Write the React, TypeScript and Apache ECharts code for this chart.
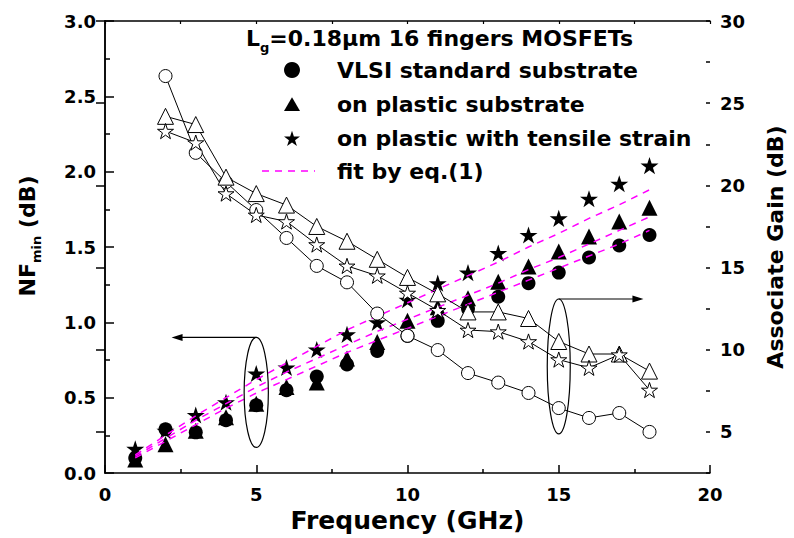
import React, { useEffect, useRef } from "react";
import * as echarts from "echarts";

// Frequency (GHz)
const freq = [1, 2, 3, 4, 5, 6, 7, 8, 9, 10, 11, 12, 13, 14, 15, 16, 17, 18];

// NFmin (dB), left axis, filled symbols
const nfVLSI = [0.10, 0.29, 0.27, 0.35, 0.45, 0.55, 0.64, 0.72, 0.81, 0.91, 1.01, 1.09, 1.17, 1.26, 1.33, 1.43, 1.51, 1.58];
const nfPlastic = [0.09, 0.19, 0.28, 0.37, 0.46, 0.57, 0.60, 0.76, 0.87, 1.01, 1.10, 1.16, 1.27, 1.37, 1.47, 1.57, 1.67, 1.76];
const nfStrain = [0.16, 0.28, 0.385, 0.47, 0.66, 0.70, 0.82, 0.92, 1.00, 1.15, 1.26, 1.33, 1.46, 1.58, 1.69, 1.82, 1.92, 2.04];

// Fit by eq.(1), NFmin (dB)
const fitVLSI = [0.10, 0.21, 0.32, 0.43, 0.53, 0.62, 0.71, 0.80, 0.88, 0.96, 1.04, 1.12, 1.20, 1.28, 1.36, 1.44, 1.52, 1.61];
const fitPlastic = [0.11, 0.23, 0.35, 0.46, 0.57, 0.67, 0.76, 0.85, 0.94, 1.02, 1.10, 1.18, 1.26, 1.35, 1.43, 1.52, 1.61, 1.70];
const fitStrain = [0.12, 0.25, 0.38, 0.50, 0.62, 0.73, 0.84, 0.95, 1.04, 1.13, 1.22, 1.31, 1.40, 1.50, 1.59, 1.69, 1.78, 1.88];

// Associate gain (dB), right axis, open symbols
const gainVLSI = [null, 26.65, 21.98, 20.2, 18.5, 16.8, 15.1, 14.1, 12.2, 10.85, 9.98, 8.58, 8.0, 7.37, 6.45, 5.85, 6.15, 5.0];
const gainPlastic = [null, 24.2, 23.7, 20.5, 19.5, 18.8, 17.5, 16.6, 15.5, 14.4, 13.4, 12.3, 12.3, 11.9, 10.5, 9.74, 9.74, 8.7];
const gainStrain = [null, 23.3, 22.6, 19.5, 18.2, 17.8, 16.4, 15.1, 14.5, 13.45, 12.4, 11.2, 11.1, 10.5, 9.4, 8.9, 9.7, 7.55];

// Right axis labelled ticks
const gainTicks = [5, 10, 15, 20, 25, 30];

const seriesNames = ["VLSI standard substrate", "on plastic substrate", "on plastic with tensile strain"];
const fitName = "fit by eq.(1)";

const STAR =
  "path://M50 0L61.23 34.55L97.55 34.55L68.16 55.9L79.39 90.45L50 69.1L20.61 90.45L31.84 55.9L2.45 34.55L38.77 34.55Z";
const TRI = "path://M50 0L100 86L0 86Z";

const FONT = "DejaVu Sans";

export default function App() {
  const ref = useRef<HTMLDivElement>(null);

  useEffect(() => {
    const chart = echarts.init(ref.current!, null, { renderer: "svg" });
    const pairs = (ys: (number | null)[]) =>
      freq.map((f, i) => [f, ys[i]]).filter((p) => p[1] !== null);

    const axisLine = { show: true, lineStyle: { color: "#000", width: 1.5 } };
    const tickLabel = { color: "#000", fontSize: 18, fontWeight: "bold", fontFamily: FONT };

    const filled = (name: string, symbol: string, size: number, data: number[]) => ({
      type: "scatter",
      name,
      xAxisIndex: 0,
      yAxisIndex: 0,
      symbol,
      symbolSize: size,
      symbolKeepAspect: true,
      itemStyle: { color: "#000", opacity: 1 },
      data: pairs(data),
      z: 2,
    });
    const fit = (data: number[]) => ({
      type: "line",
      name: fitName,
      xAxisIndex: 0,
      yAxisIndex: 0,
      symbol: "none",
      smooth: false,
      lineStyle: { color: "#ff00ff", width: 1.5, type: [7, 6] },
      itemStyle: { color: "#ff00ff" },
      data: pairs(data),
      z: 3,
    });
    const open = (name: string, symbol: string, size: number, data: (number | null)[]) => ({
      type: "line",
      name,
      xAxisIndex: 0,
      yAxisIndex: 1,
      symbol,
      symbolSize: size,
      symbolKeepAspect: true,
      showAllSymbol: true,
      lineStyle: { color: "#000", width: 1 },
      itemStyle: { color: "#fff", borderColor: "#000", borderWidth: 1, opacity: 1 },
      data: pairs(data),
      z: 4,
    });

    const option: any = {
      animation: false,
      backgroundColor: "#fff",
      grid: { left: 105, right: 82, top: 21, bottom: 65, containLabel: false },
      legend: {
        orient: "vertical",
        left: 284,
        top: 59,
        padding: 0,
        itemWidth: 16,
        itemHeight: 16,
        itemGap: 12.2,
        selectedMode: false,
        textStyle: {
          color: "#000",
          fontSize: 22,
          fontWeight: "bold",
          fontFamily: FONT,
          lineHeight: 20,
          padding: [0, 0, 0, 32],
        },
        data: [
          { name: seriesNames[0], icon: "circle" },
          { name: seriesNames[1], icon: TRI },
          { name: seriesNames[2], icon: STAR },
        ],
      },
      xAxis: [
        {
          type: "value",
          position: "bottom",
          min: 0,
          max: 20,
          interval: 5,
          axisLine,
          axisTick: { show: true, inside: true, length: 8, lineStyle: { color: "#000", width: 1.5 } },
          minorTick: { show: true, splitNumber: 2, length: 4, lineStyle: { color: "#000", width: 1.5 } },
          splitLine: { show: false },
          minorSplitLine: { show: false },
          axisLabel: { ...tickLabel, margin: 12 },
          name: "Frequency (GHz)",
          nameLocation: "middle",
          nameGap: 31,
          nameTextStyle: { color: "#000", fontSize: 25, fontWeight: "bold", fontFamily: FONT },
        },
        {
          type: "value",
          position: "top",
          min: 0,
          max: 20,
          interval: 2.5,
          axisLine,
          axisTick: { show: true, inside: true, length: 3, lineStyle: { color: "#000", width: 1.2 } },
          axisLabel: { show: false },
          splitLine: { show: false },
        },
      ],
      yAxis: [
        {
          type: "value",
          position: "left",
          min: 0,
          max: 3,
          interval: 0.5,
          axisLine,
          axisTick: { show: true, inside: true, length: 9, lineStyle: { color: "#000", width: 1.5 } },
          minorTick: { show: true, splitNumber: 2, length: 5, lineStyle: { color: "#000", width: 1.5 } },
          splitLine: { show: false },
          minorSplitLine: { show: false },
          axisLabel: { ...tickLabel, margin: 9, formatter: (v: number) => v.toFixed(1) },
        },
        {
          type: "value",
          position: "right",
          min: 2.5,
          max: 30,
          axisLine,
          axisTick: {
            show: true,
            inside: true,
            length: 9,
            customValues: gainTicks,
            lineStyle: { color: "#000", width: 1.5 },
          },
          splitLine: { show: false },
          axisLabel: { ...tickLabel, margin: 10, customValues: gainTicks },
          name: "Associate Gain (dB)",
          nameLocation: "middle",
          nameRotate: 90,
          nameGap: 54,
          nameTextStyle: { color: "#000", fontSize: 22, fontWeight: "bold", fontFamily: FONT },
        },
        {
          type: "value",
          position: "right",
          min: 2.5,
          max: 30,
          interval: 2.5,
          axisLine: { show: false },
          axisTick: { show: true, inside: true, length: 4, lineStyle: { color: "#000", width: 1.5 } },
          axisLabel: { show: false },
          splitLine: { show: false },
        },
      ],
      series: [
        filled(seriesNames[0], "circle", 14, nfVLSI),
        filled(seriesNames[1], "triangle", 16, nfPlastic),
        filled(seriesNames[2], STAR, 18, nfStrain),
        fit(fitVLSI),
        fit(fitPlastic),
        fit(fitStrain),
        open("gain " + seriesNames[0], "circle", 13, gainVLSI),
        open("gain " + seriesNames[1], "triangle", 16, gainPlastic),
        open("gain " + seriesNames[2], STAR, 16, gainStrain),
      ],
    };

    chart.setOption(option);

    const px = (x: number, y: number) => chart.convertToPixel({ gridIndex: 0 }, [x, y]) as number[];

    // Annotation ellipses and arrows
    const e1top = px(5, 0.90);
    const e1bot = px(5, 0.17);
    const e1rx = px(5.4, 0)[0] - px(5, 0)[0];
    const a1end = px(2.2, 0.90);
    const e2top = px(15, 1.155);
    const e2bot = px(15, 0.26);
    const e2rx = px(15.38, 0)[0] - px(15, 0)[0];
    const a2end = px(17.8, 1.155);

    const stroke = { stroke: "#000", lineWidth: 1.2, fill: "none" };
    const head = (tip: number[], dir: number) => ({
      type: "polygon",
      shape: {
        points: [
          [tip[0], tip[1]],
          [tip[0] - dir * 11, tip[1] - 3.5],
          [tip[0] - dir * 11, tip[1] + 3.5],
        ],
      },
      style: { fill: "#000" },
      z: 10,
    });

    const richMain = { fontSize: 22, fontWeight: "bold", fontFamily: FONT, lineHeight: 22, verticalAlign: "top" };
    const richSub = {
      fontSize: 13,
      fontWeight: "bold",
      fontFamily: FONT,
      lineHeight: 13,
      padding: [14, 0, 0, 0],
      verticalAlign: "top",
    };

    chart.setOption({
      graphic: [
        {
          type: "ellipse",
          shape: { cx: e1top[0], cy: (e1top[1] + e1bot[1]) / 2, rx: e1rx, ry: (e1bot[1] - e1top[1]) / 2 },
          style: stroke,
          z: 10,
        },
        {
          type: "line",
          shape: { x1: e1top[0], y1: e1top[1], x2: a1end[0] + 8, y2: a1end[1] },
          style: stroke,
          z: 10,
        },
        head(a1end, -1),
        {
          type: "ellipse",
          shape: { cx: e2top[0], cy: (e2top[1] + e2bot[1]) / 2, rx: e2rx, ry: (e2bot[1] - e2top[1]) / 2 },
          style: stroke,
          z: 10,
        },
        {
          type: "line",
          shape: { x1: e2top[0], y1: e2top[1], x2: a2end[0] - 8, y2: a2end[1] },
          style: stroke,
          z: 10,
        },
        head(a2end, 1),
        // Legend entry for the fit lines
        {
          type: "line",
          shape: { x1: 262, y1: 171, x2: 315, y2: 171 },
          style: { stroke: "#ff00ff", lineWidth: 1.5, lineDash: [7, 6] },
          z: 10,
        },
        {
          type: "text",
          x: 337,
          y: 171,
          style: {
            text: fitName,
            fill: "#000",
            fontSize: 22,
            fontWeight: "bold",
            fontFamily: FONT,
            align: "left",
            verticalAlign: "middle",
          },
          z: 10,
        },
        {
          type: "text",
          x: 246,
          y: 27,
          style: {
            text: "{a|L}{s|g}{a|=0.18μm 16 fingers MOSFETs}",
            rich: { a: richMain, s: richSub },
            fill: "#000",
            align: "left",
            verticalAlign: "top",
          },
          z: 10,
        },
        {
          type: "text",
          x: 27,
          y: 236,
          rotation: Math.PI / 2,
          style: {
            text: "{a|NF}{s|min}{a| (dB)}",
            rich: { a: richMain, s: richSub },
            fill: "#000",
            align: "center",
            verticalAlign: "middle",
          },
          z: 10,
        },
      ],
    });

    return () => chart.dispose();
  }, []);

  return <div ref={ref} style={{ position: "absolute", left: 0, top: 0, width: 794, height: 538 }} />;
}
